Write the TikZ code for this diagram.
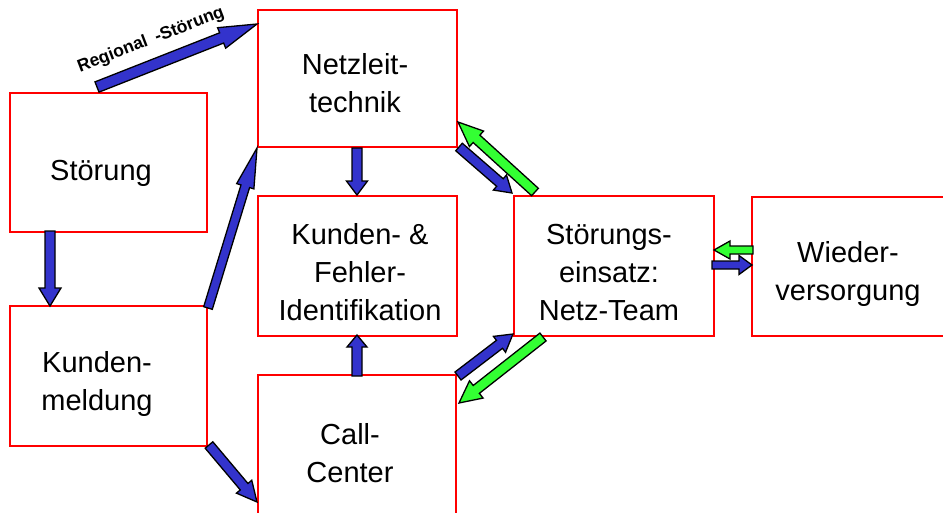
\documentclass[tikz,border=0pt]{standalone}
\usepackage{fontspec}
\setmainfont{Liberation Sans}
\usetikzlibrary{calc}
\definecolor{arrblue}{RGB}{51,51,204}
\definecolor{arrgreen}{RGB}{51,255,51}
\definecolor{boxred}{RGB}{255,0,0}
% #1 from, #2 to, #3 fill, #4 head length, #5 shaft half width, #6 head half width
\newcommand\blockarrow[6]{%
  \coordinate (banck) at ($(#2)!#4pt!(#1)$);
  \draw[blockarrowline,fill=#3]
    ($(#1)!#5pt!90:(#2)$) -- ($(banck)!#5pt!90:(#2)$) -- ($(banck)!#6pt!90:(#2)$)
    -- (#2) -- ($(banck)!#6pt!-90:(#2)$) -- ($(banck)!#5pt!-90:(#2)$)
    -- ($(#1)!#5pt!-90:(#2)$) -- cycle;}
\tikzset{
  box/.style={draw=boxred, line width=1.5pt, inner sep=0pt, minimum width=#1},
  txt/.style={font=\fontsize{29}{38}\selectfont, align=center, inner sep=0pt, anchor=base},
  blockarrowline/.style={draw=black, line width=1.3pt, line join=miter},
  lbl/.style={font=\fontsize{17.5}{20}\selectfont\bfseries, inner sep=0pt}
}
\begin{document}
\begin{tikzpicture}[x=1pt,y=-1pt]
\useasboundingbox (0,0) rectangle (943,512);
\clip (0,0) rectangle (943,512);
% boxes
\node[box=197pt, minimum height=139pt] (stoer) at (108.5,162.5) {};
\node[box=197pt, minimum height=140pt] (kundm) at (108.5,376) {};
\node[box=199pt, minimum height=137pt] (netz) at (357.5,78.5) {};
\node[box=199pt, minimum height=140pt] (ident) at (357.5,266) {};
\node[box=198pt, minimum height=155pt] (call) at (357,452.5) {};
\node[box=200pt, minimum height=140pt] (einsatz) at (614,266) {};
\node[box=193pt, minimum height=139pt] (wieder) at (848.5,266.5) {};
% texts (anchor at baseline of the last line)
\node[txt] (tstoer) at (101,180) {Störung};
\node[txt] (tkundm) at (97,410) {Kunden-\\meldung};
\node[txt] (tnetz) at (355,112) {Netzleit-\\technik};
\node[txt] (tident) at (360,320) {Kunden- \&\\Fehler-\\Identifikation};
\node[txt] (tcall) at (350,482) {Call-\\Center};
\node[txt] (teinsatz) at (609,320) {Störungs-\\einsatz:\\Netz-Team};
\node[txt] (twieder) at (848,300) {Wieder-\\versorgung};
% arrow end points
\coordinate (a1s) at (97,87);   \coordinate (a1e) at (257,24);
\coordinate (a2s) at (50,231);  \coordinate (a2e) at (50,306);
\coordinate (a3s) at (357,148); \coordinate (a3e) at (357,195);
\coordinate (a4s) at (208,308); \coordinate (a4e) at (257,148);
\coordinate (a5s) at (357,376); \coordinate (a5e) at (357,335);
\coordinate (a6s) at (209,445); \coordinate (a6e) at (257,502);
\coordinate (a7s) at (459,147); \coordinate (a7e) at (512,193);
\coordinate (a8s) at (535,192); \coordinate (a8e) at (458,122);
\coordinate (a9s) at (753,250); \coordinate (a9e) at (714,250);
\coordinate (a10s) at (712,265); \coordinate (a10e) at (752,265);
\coordinate (a11s) at (458,376); \coordinate (a11e) at (513,334);
\coordinate (a12s) at (543,337); \coordinate (a12e) at (459,403);
% arrows
\blockarrow{a1s}{a1e}{arrblue}{38}{5.5}{11}
\blockarrow{a2s}{a2e}{arrblue}{18}{5}{11}
\blockarrow{a3s}{a3e}{arrblue}{14}{5}{10.5}
\blockarrow{a4s}{a4e}{arrblue}{40}{4.5}{9}
\blockarrow{a5s}{a5e}{arrblue}{12}{5}{10}
\blockarrow{a6s}{a6e}{arrblue}{20}{5}{10}
\blockarrow{a7s}{a7e}{arrblue}{16}{5}{10}
\blockarrow{a8s}{a8e}{arrgreen}{25}{5}{10.5}
\blockarrow{a9s}{a9e}{arrgreen}{16}{4}{9}
\blockarrow{a10s}{a10e}{arrblue}{13}{4}{9.5}
\blockarrow{a11s}{a11e}{arrblue}{17}{5}{10}
\blockarrow{a12s}{a12e}{arrgreen}{22}{5}{11}
% label
\node[lbl, rotate=21] (reglbl) at (151,40) {Regional\hspace{0.5em}-Störung};
\end{tikzpicture}
\end{document}
